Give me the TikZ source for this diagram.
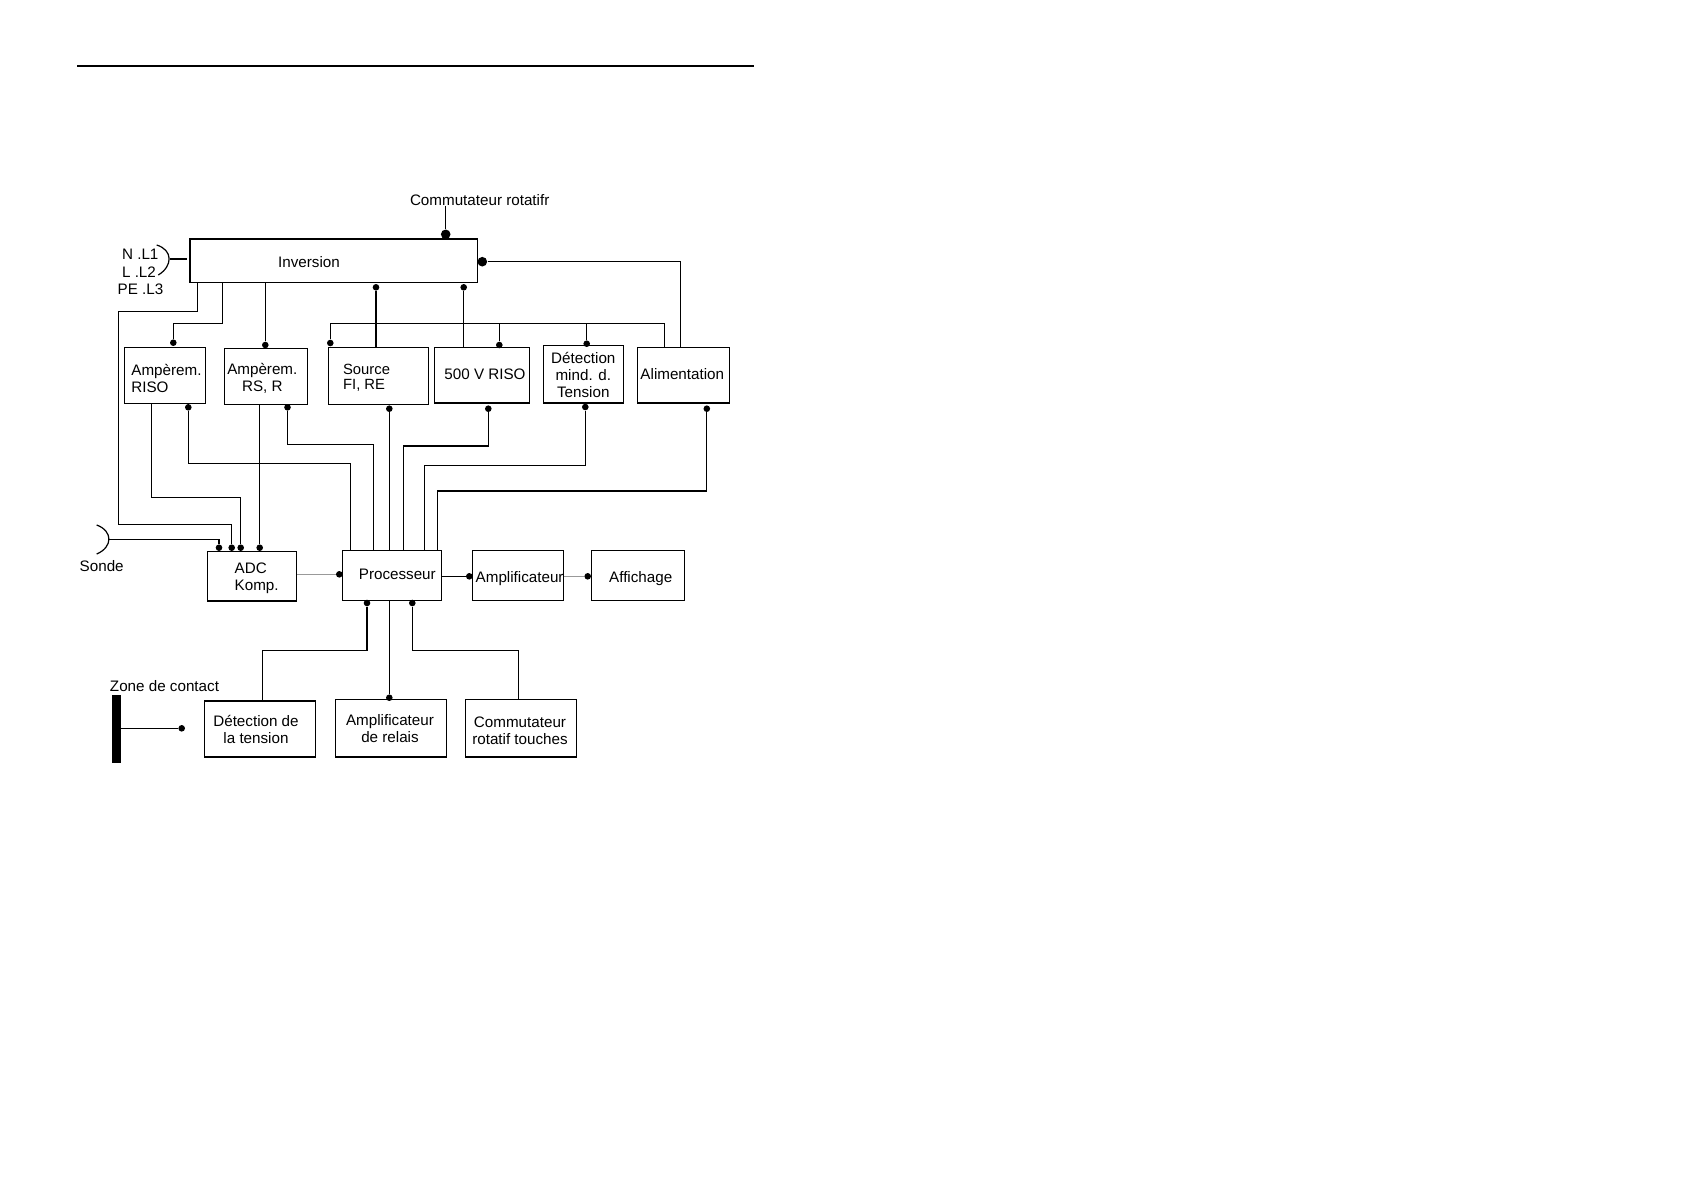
\documentclass[tikz,border=0pt]{standalone}
\usepackage{fontspec}
\setmainfont{Liberation Sans}
\usetikzlibrary{fit}
\begin{document}
\begin{tikzpicture}[x=0.5pt,y=-0.5pt,
  box/.style={draw, line width=0.6pt, inner sep=0pt},
  txt/.style={inner sep=0pt, font=\fontsize{7.6}{8.5}\selectfont},
  one/.style={text height=5.44pt, text depth=0pt},
  wire/.style={line width=0.6pt},
  gwire/.style={line width=0.6pt, black!40},
  dot/.style={circle, fill=black, inner sep=0pt, minimum size=3.3pt},
  bigdot/.style={circle, fill=black, inner sep=0pt, minimum size=4.8pt}]
\useasboundingbox (0,0) rectangle (1684,1190);
% top rule
\coordinate (r1) at (77,66);
\coordinate (r2) at (754,66);
\draw[line width=0.7pt] (r1) -- (r2);

% boxes
\node[box, fit={(190,239) (477.5,282.5)}] (inv) {};
\node[box, fit={(124.3,347.3) (205.7,403.3)}] (ar) {};
\node[box, fit={(224.3,348.3) (307.7,404.3)}] (ars) {};
\node[box, fit={(328.3,347.3) (428.3,404.3)}] (src) {};
\node[box, fit={(434.3,347.3) (529.3,403)}] (v500) {};
\node[box, fit={(543.3,345.3) (623.3,403)}] (det) {};
\node[box, fit={(637.3,347.3) (729.3,403)}] (alim) {};
\node[box, fit={(207.3,551.7) (296.7,601)}] (adc) {};
\node[box, fit={(342.3,550.3) (441.7,600.3)}] (proc) {};
\node[box, fit={(472.3,550.3) (563.3,600.3)}] (amp) {};
\node[box, fit={(591.3,550.3) (684.3,600.3)}] (aff) {};
\node[box, fit={(204.3,701) (315.3,757)}] (dtt) {};
\node[box, fit={(335.3,699.3) (446.3,757)}] (ampr) {};
\node[box, fit={(465.3,699.3) (576.3,757)}] (comr) {};
\node[fill=black, inner sep=0pt, fit={(112,695) (121,762.7)}] (zbar) {};

% texts
\node[txt, one] (comt) at (479.7,200) {Commutateur rotatifr};
\node[txt, one, anchor=west] (l1) at (121.7,254) {N .L1};
\node[txt, one, anchor=west] (l2) at (121.7,271.7) {L .L2};
\node[txt, one, anchor=west] (l3) at (117.3,289.3) {PE .L3};
\node[txt, one] (invt) at (309,261.7) {Inversion};
\node[txt, align=left, anchor=west] (art) at (131,378.6) {Ampèrem.\\RISO};
\node[txt, align=center] (arst) at (262.3,378.6) {Ampèrem.\\RS, R};
\node[txt, align=left, anchor=west, font=\fontsize{7.4}{7.6}\selectfont] (srct) at (342.7,377.5) {Source\\FI, RE};
\node[txt, one] (v500t) at (485,374.3) {500 V RISO};
\node[txt, align=center, font=\fontsize{7.6}{8.3}\selectfont] (dett) at (583.3,375) {Détection\\mind. d.\\Tension};
\node[txt, one] (alimt) at (682.3,374.3) {Alimentation};
\node[txt, align=left, anchor=west] (adct) at (234.3,578) {ADC\\Komp.};
\node[txt, one] (proct) at (397.3,574.3) {Processeur};
\node[txt, one, anchor=west] (ampt) at (475.3,576.7) {Amplificateur};
\node[txt, one] (afft) at (640.7,576.7) {Affichage};
\node[txt, align=center] (dttt) at (256,729) {Détection de\\la tension};
\node[txt, align=center] (amprt) at (390,729) {Amplificateur\\de relais};
\node[txt, align=center] (comrt) at (520,730.5) {Commutateur\\rotatif touches};
\node[txt, one] (sondet) at (101.7,566) {Sonde};
\node[txt, one] (zonet) at (164.5,685.7) {Zone de contact};

% dots
\node[bigdot] (dcom) at (445.7,234.3) {};
\node[bigdot] (dinvr) at (482.3,261.7) {};
\node[dot] (dsrcin) at (376,287.3) {};
\node[dot] (d500in) at (463.7,287.3) {};
\node[dot] (dsrctop) at (330.3,343) {};
\node[dot] (d500top) at (499.3,345) {};
\node[dot] (ddettop) at (586.7,343.7) {};
\node[dot] (dristop) at (173.3,342.7) {};
\node[dot] (drstop) at (265.3,345) {};
\node[dot] (drisb) at (188.3,407.3) {};
\node[dot] (drsb) at (287.5,407.3) {};
\node[dot] (dsrcb) at (389.3,408.7) {};
\node[dot] (d500b) at (488.3,408.7) {};
\node[dot] (ddetb) at (585.3,407) {};
\node[dot] (dalimb) at (706.8,408.7) {};
\node[dot] (dadc1) at (219,547.7) {};
\node[dot] (dadc2) at (231.7,547.7) {};
\node[dot] (dadc3) at (240.7,547.7) {};
\node[dot] (dadc4) at (259.7,547.7) {};
\node[dot] (dproc) at (339.3,574.3) {};
\node[dot] (damp) at (469.3,576.3) {};
\node[dot] (daff) at (587.7,576.3) {};
\node[dot] (dpb1) at (367,603) {};
\node[dot] (dpb2) at (412.3,603) {};
\node[dot] (damprt) at (389.3,697.7) {};
\node[dot] (dzone) at (181.7,728.3) {};

% connectors
\draw[wire] (dcom) -- (dcom |- comt.south);
\draw[wire] (dinvr) -- (680.3,261.7) -- (680.3,0 |- alim.north);
\draw[wire] (dsrcin) -- (dsrcin |- src.north);
\draw[wire] (d500in) -- (d500in |- v500.north);
\draw[wire] (dsrctop) -- (330.3,323.3) -- (664.3,323.3) -- (664.3,0 |- alim.north);
\draw[wire] (d500top) -- (499.3,323.3);
\draw[wire] (ddettop) -- (586.7,323.3);
\draw[wire] (222.3,0 |- inv.south) -- (222.3,323.3) -- (173.3,323.3) -- (dristop);
\draw[wire] (drstop) -- (drstop |- inv.south);
\draw[wire] (197.3,0 |- inv.south) -- (197.3,311.3) -- (118.5,311.3) -- (118.5,524.3) -- (231.7,524.3) -- (dadc2);
% mains plug
\coordinate (plug) at (170,259);
\draw[wire] (156.7,245) .. controls (173,250) and (173,266) .. (158.3,275);
\draw[wire] (plug) -- (187.3,259);
\draw[wire] (151.5,0 |- ar.south) -- (151.5,497.3) -- (240.7,497.3) -- (dadc3);
\draw[wire] (drisb) -- (188.3,463.3) -- (350.7,463.3) -- (350.7,0 |- proc.north);
\draw[wire] (259.7,0 |- ars.south) -- (dadc4);
\draw[wire] (drsb) -- (287.5,444.3) -- (373.3,444.3) -- (373.3,0 |- proc.north);
\draw[wire] (dsrcb) -- (dsrcb |- proc.north);
\draw[wire] (d500b) -- (488.3,446) -- (403.3,446) -- (403.3,0 |- proc.north);
\draw[wire] (ddetb) -- (585.3,465.3) -- (424.3,465.3) -- (424.3,0 |- proc.north);
\draw[wire] (dalimb) -- (706.8,491) -- (437.3,491) -- (437.3,0 |- proc.north);
% probe
\coordinate (sonde) at (108.3,539.3);
\draw[wire] (96.7,525) .. controls (113,531) and (113,547) .. (96.7,554);
\draw[wire] (sonde) -- (219,539.3) -- (dadc1);
\draw[gwire] (adc.east |- dproc) -- (dproc);
\draw[wire] (proc.east |- damp) -- (damp);
\draw[gwire] (amp.east |- daff) -- (daff);
\draw[wire] (dpb1) -- (367,650.3) -- (262.3,650.3) -- (262.3,0 |- dtt.north);
\draw[wire] (damprt |- proc.south) -- (damprt);
\draw[wire] (dpb2) -- (412.3,650.3) -- (518.3,650.3) -- (518.3,0 |- comr.north);
\draw[wire] (zbar.east |- dzone) -- (dzone);
\end{tikzpicture}
\end{document}
